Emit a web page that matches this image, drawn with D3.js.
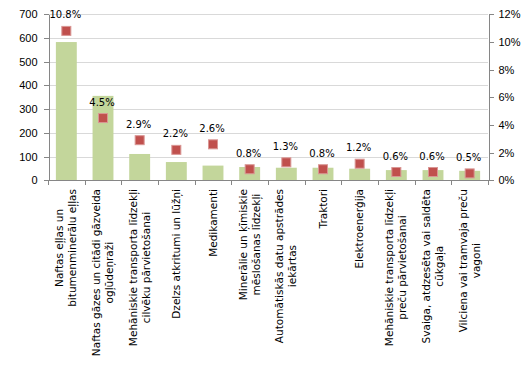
<!DOCTYPE html>
<html>
<head>
<meta charset="utf-8">
<script src="https://cdn.jsdelivr.net/npm/d3@7"></script>
<style>
  html, body { margin: 0; padding: 0; background: #fff; }
  svg { display: block; font-family: Tahoma, "DejaVu Sans", sans-serif; }
  .axis path, .axis line { stroke: #868686; shape-rendering: crispEdges; }
  .axis text { fill: #000; font-size: 11px; }
  .grid line { stroke: #d9d9d9; shape-rendering: crispEdges; }
</style>
</head>
<body>
<svg id="chart" width="529" height="365"></svg>
<script>
"use strict";

// ── Data ─────────────────────────────────────────────────────────────────────
const categories = [
  ["Naftas eļļas un", "bitumenminerālu eļļas"],
  ["Naftas gāzes un citādi gāzveida", "ogļūdeņraži"],
  ["Mehāniskie transporta līdzekļi", "cilvēku pārvietošanai"],
  ["Dzelzs atkritumi un lūžņi"],
  ["Medikamenti"],
  ["Minerālie un ķīmiskie", "mēslošanas līdzekļi"],
  ["Automātiskās datu apstrādes", "iekārtas"],
  ["Traktori"],
  ["Elektroenerģija"],
  ["Mehāniskie transporta līdzekļi", "preču pārvietošanai"],
  ["Svaiga, atdzesēta vai saldēta", "cūkgaļa"],
  ["Vilciena vai tramvaja preču", "vagoni"]
];
const values = [583, 356, 111, 77, 62, 56, 53, 53, 49, 43, 43, 40];
const shares = [10.8, 4.5, 2.9, 2.2, 2.6, 0.8, 1.3, 0.8, 1.2, 0.6, 0.6, 0.5];
const leftTicks = [0, 100, 200, 300, 400, 500, 600, 700];
const rightTicks = [0, 2, 4, 6, 8, 10, 12];

// ── Layout ───────────────────────────────────────────────────────────────────
const x0 = 48, x1 = 488, yTop = 14.3, yBot = 180.3;
const svg = d3.select("#chart");

const x = d3.scaleBand()
  .domain(d3.range(categories.length))
  .range([x0, x1])
  .paddingInner(0.43)
  .paddingOuter(0.215);

const yL = d3.scaleLinear().domain([0, 700]).range([yBot, yTop]);
const yR = d3.scaleLinear().domain([0, 12]).range([yBot, yTop]);

// Gridlines
svg.append("g").attr("class", "grid")
  .selectAll("line")
  .data(leftTicks.slice(1))
  .join("line")
  .attr("x1", x0).attr("x2", x1)
  .attr("y1", d => Math.round(yL(d)) + 0.5)
  .attr("y2", d => Math.round(yL(d)) + 0.5);

// Bars
svg.append("g")
  .selectAll("rect")
  .data(values)
  .join("rect")
  .attr("x", (d, i) => x(i))
  .attr("width", x.bandwidth())
  .attr("y", d => yL(d))
  .attr("height", d => yBot - yL(d))
  .attr("fill", "#c3d69b");

// Left axis
svg.append("g").attr("class", "axis")
  .attr("transform", `translate(${x0 + 0.5},0)`)
  .call(d3.axisLeft(yL).tickValues(leftTicks).tickSize(5).tickSizeOuter(0).tickPadding(6));

// Right axis
svg.append("g").attr("class", "axis")
  .attr("transform", `translate(${x1 + 0.5},0)`)
  .call(d3.axisRight(yR).tickValues(rightTicks).tickSize(5).tickSizeOuter(0).tickPadding(5)
    .tickFormat(d => d + "%"));

// Category axis (ticks at band boundaries)
const step = (x1 - x0) / categories.length;
const xAx = svg.append("g").attr("class", "axis");
xAx.append("line")
  .attr("x1", x0).attr("x2", x1 + 1)
  .attr("y1", Math.round(yBot) + 0.5).attr("y2", Math.round(yBot) + 0.5);
xAx.selectAll(".tk")
  .data(d3.range(categories.length + 1))
  .join("line").attr("class", "tk")
  .attr("x1", i => Math.round(x0 + i * step) + 0.5)
  .attr("x2", i => Math.round(x0 + i * step) + 0.5)
  .attr("y1", Math.round(yBot)).attr("y2", Math.round(yBot) + 5);

// Category labels, rotated
const labTop = 189, lineGap = 13;
categories.forEach((lines, i) => {
  const cx = x(i) + x.bandwidth() / 2;
  const g = svg.append("g");
  const texts = lines.map(t => g.append("text")
    .attr("font-size", "10.5px")
    .attr("text-anchor", "middle")
    .text(t));
  const maxLen = d3.max(texts, t => t.node().getComputedTextLength());
  const cy = labTop + maxLen / 2;
  texts.forEach((t, j) => {
    const lx = cx + (j - (lines.length - 1) / 2) * lineGap + 3.5;
    t.attr("transform", `translate(${lx},${cy}) rotate(-90)`);
  });
});

// Markers
const ms = 9;
svg.append("g")
  .selectAll("rect")
  .data(shares)
  .join("rect")
  .attr("x", (d, i) => x(i) + x.bandwidth() / 2 - ms / 2)
  .attr("y", d => yR(d) - ms / 2)
  .attr("width", ms).attr("height", ms)
  .attr("fill", "#c0504d")
  .attr("stroke", "#d99694")
  .attr("stroke-width", 1);

// Data labels
svg.append("g")
  .selectAll("text")
  .data(shares)
  .join("text")
  .attr("x", (d, i) => x(i) + x.bandwidth() / 2 - 1)
  .attr("y", d => yR(d) - 12.5)
  .attr("text-anchor", "middle")
  .attr("font-size", "10px")
  .text(d => d.toFixed(1) + "%");
</script>
</body>
</html>
